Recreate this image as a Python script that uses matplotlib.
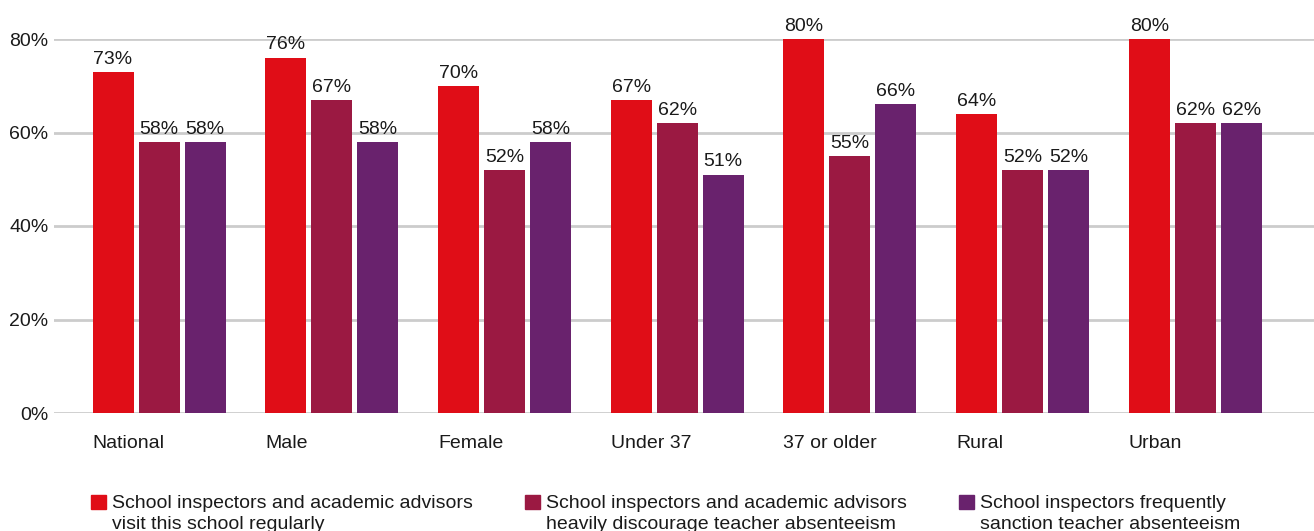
import matplotlib
matplotlib.use("Agg")
import matplotlib.pyplot as plt
from matplotlib.patches import Rectangle
import numpy as np

plt.rcParams['font.family'] = ['Liberation Sans', 'DejaVu Sans']

categories = ["National", "Male", "Female", "Under 37", "37 or older", "Rural", "Urban"]
visit_regularly = [73, 76, 70, 67, 80, 64, 80]
discourage_absenteeism = [58, 67, 52, 62, 55, 52, 62]
sanction_absenteeism = [58, 58, 58, 51, 66, 52, 62]
series_labels = [
    "School inspectors and academic advisors\nvisit this school regularly",
    "School inspectors and academic advisors\nheavily discourage teacher absenteeism",
    "School inspectors frequently\nsanction teacher absenteeism",
]
yticks = [0, 20, 40, 60, 80]
colors = ["#e00d17", "#9b1942", "#69226d"]

FS = 14
TXT = "#1a1a1a"
W, H = 1314, 531
fig = plt.figure(figsize=(W / 100, H / 100), dpi=100)
ax = fig.add_axes([54 / W, (H - 413) / H, (W - 54) / W, 374 / H])

spacing = 172.7
bar_w = 41 / spacing
step = 46 / spacing
x = np.arange(len(categories))

series = [visit_regularly, discourage_absenteeism, sanction_absenteeism]
for k, (vals, col) in enumerate(zip(series, colors)):
    xs = x + (k - 1) * step
    ax.bar(xs, vals, width=bar_w, color=col, zorder=3, clip_on=False)
    for xi, v in zip(xs, vals):
        ax.text(xi, v + 0.9, f"{v}%", ha="center", va="bottom", fontsize=FS,
                color=TXT, zorder=4, clip_on=False)

ax.set_xlim((54 - 159) / spacing, (W - 159) / spacing)
ax.set_ylim(0, 80)
ax.set_yticks(yticks)
ax.set_yticklabels([f"{t}%" for t in yticks], fontsize=FS, color=TXT)
ax.yaxis.grid(True, color="#cccccc", linewidth=2, zorder=0)
ax.tick_params(axis="y", length=0, pad=4)
ax.set_xticks([])
for s in ax.spines.values():
    s.set_visible(False)

# category labels, left-aligned with the first bar of each group
for xi, name in zip(x, categories):
    ax.text(xi - step - bar_w / 2, -6.6, name, ha="left", va="center",
            fontsize=FS, color=TXT, clip_on=False)

# legend: colour square plus two text lines per series
legend_x = [91, 525, 959]
for lx, lab, col in zip(legend_x, series_labels, colors):
    fig.patches.append(Rectangle((lx / W, (H - 509) / H), 15 / W, 14 / H,
                                 transform=fig.transFigure, color=col))
    for j, line in enumerate(lab.split("\n")):
        fig.text((lx + 21) / W, (H - 508 - 21 * j) / H, line, ha="left",
                 va="baseline", fontsize=FS, color=TXT)

fig.savefig("out.png", dpi=100)
